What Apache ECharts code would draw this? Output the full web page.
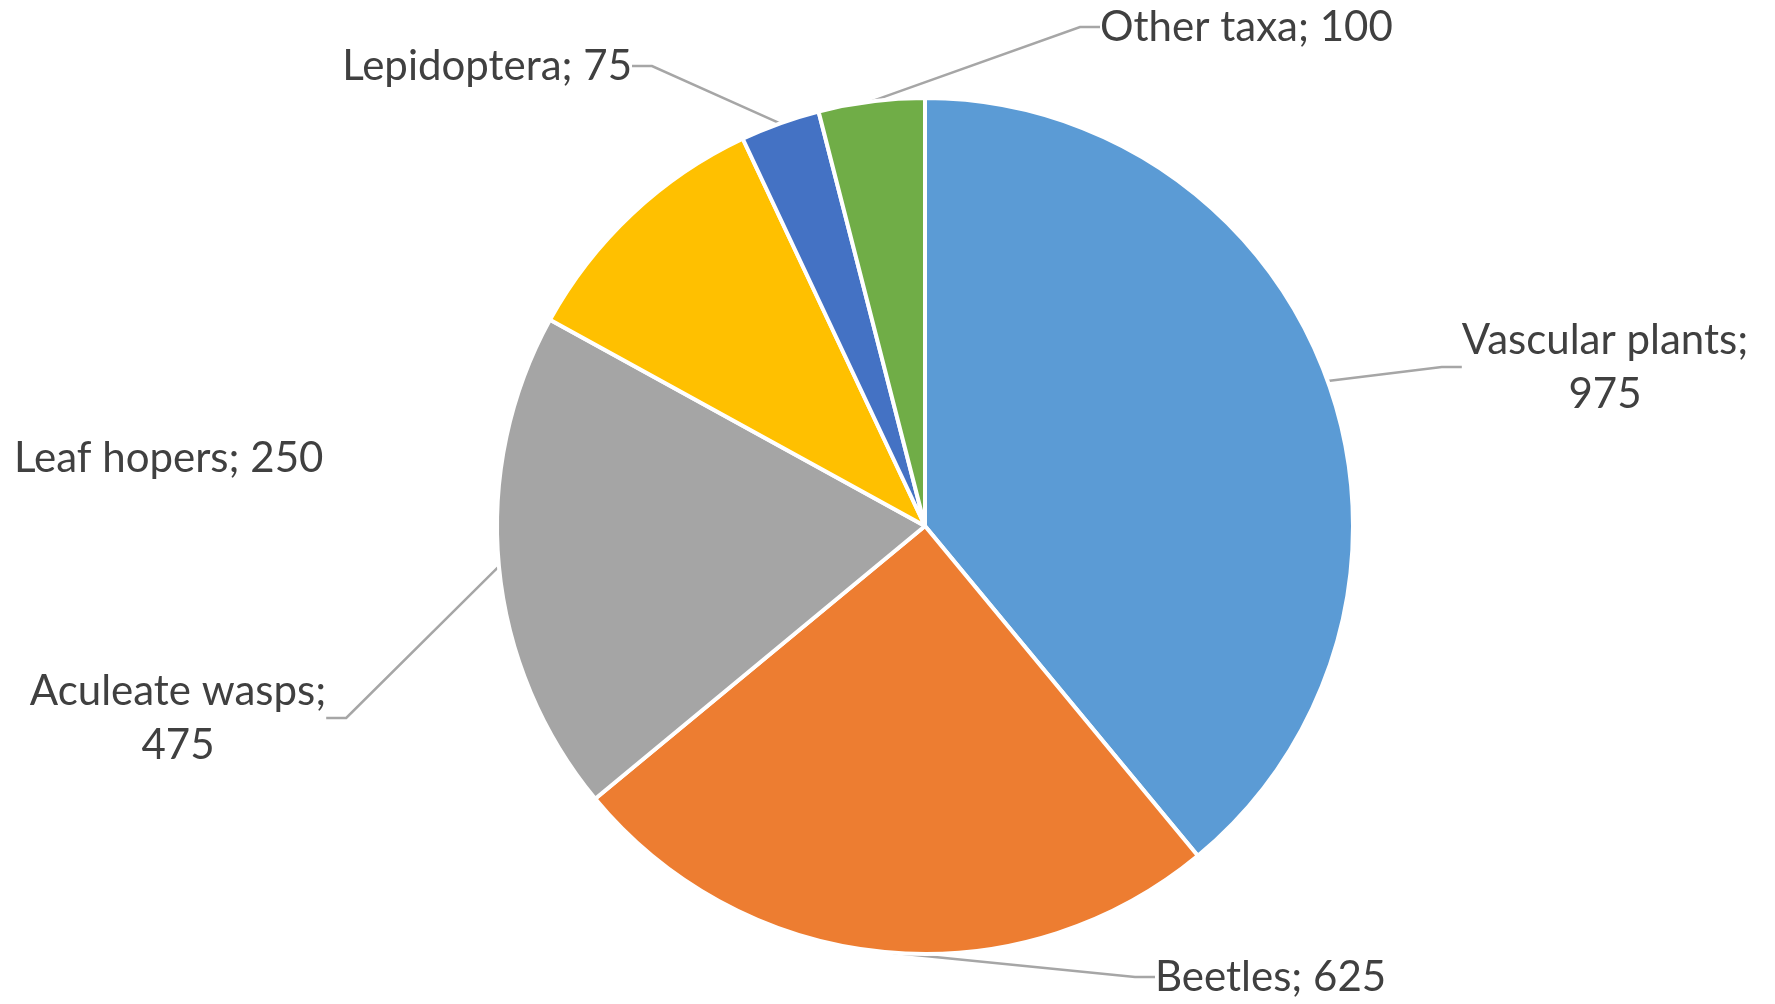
<!DOCTYPE html>
<html>
<head>
<meta charset="utf-8">
<script src="https://cdn.jsdelivr.net/npm/echarts@6/dist/echarts.min.js"></script>
<style>
  html, body { margin: 0; padding: 0; background: #fff; }
  #main { width: 1775px; height: 1004px; }
</style>
</head>
<body>
<div id="main"></div>
<script>
// data, clockwise from 12 o'clock
var taxa = ['Vascular plants', 'Beetles', 'Aculeate wasps', 'Leaf hopers', 'Lepidoptera', 'Other taxa'];
var species = [975, 625, 475, 250, 75, 100];
var colors = ['#5B9BD5', '#ED7D31', '#A5A5A5', '#FFC000', '#4472C4', '#70AD47'];

// where excel put the labels (px)
var labelSpots = {
  'Vascular plants': { x: 1605, y: 367, align: 'center' },
  'Beetles': { x: 1155, y: 977, align: 'left' },
  'Aculeate wasps': { x: 178, y: 718, align: 'center' },
  'Leaf hopers': { x: 14, y: 458, align: 'left' },
  'Lepidoptera': { x: 632, y: 66, align: 'right' },
  'Other taxa': { x: 1100, y: 27, align: 'left' }
};
// two-line labels
var wrapped = { 'Vascular plants': true, 'Aculeate wasps': true };

var myChart = echarts.init(document.getElementById('main'));

var pieData = taxa.map(function (name, i) {
  return {
    name: name,
    value: species[i],
    itemStyle: { color: colors[i] },
    labelLine: { show: name !== 'Leaf hopers' }
  };
});

myChart.setOption({
  animation: false,
  series: [{
    type: 'pie',
    center: [925, 526],
    radius: 428,
    startAngle: 90,
    clockwise: true,
    data: pieData,
    itemStyle: { borderColor: '#fff', borderWidth: 4 },
    label: {
      show: true,
      position: 'outside',
      fontFamily: 'Lato',
      fontSize: 42,
      lineHeight: 54,
      color: '#404040',
      formatter: function (p) {
        return p.name + ';' + (wrapped[p.name] ? '\n' : ' ') + p.value;
      }
    },
    labelLine: {
      show: true,
      length: 20,
      length2: 20,
      minTurnAngle: 0,
      lineStyle: { color: '#A6A6A6', width: 2.5 }
    },
    labelLayout: function (params) {
      var s = labelSpots[taxa[params.dataIndex]];
      return { x: s.x, y: s.y, align: s.align, verticalAlign: 'middle' };
    }
  }]
});
</script>
</body>
</html>
